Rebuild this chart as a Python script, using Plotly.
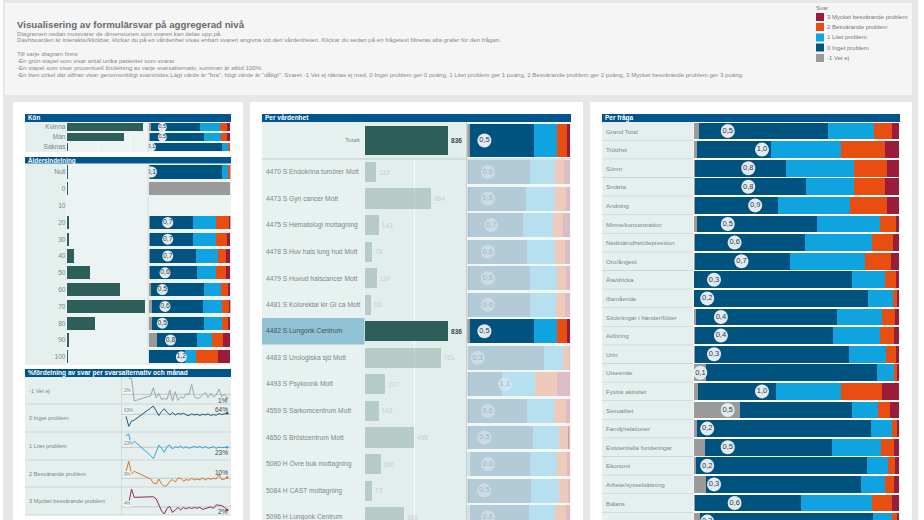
import plotly.graph_objects as go

W, H = 924, 520

answers = ["-1 Vet ej", "0 Inget problem", "1 Litet problem", "2 Besvärande problem", "3 Mycket besvärande problem"]
colors = ["#9a9a9a", "#00527f", "#0fa3e0", "#e84e0f", "#9b1b3a"]
line_colors = ["#a0a5a5", "#1d5a7c", "#2fa6d6", "#d8752e", "#8e2c4e"]

kon = ["Kvinna", "Man", "Saknas"]
kon_n = [478, 357, 3]
kon_stack = [[2.9, 60.4, 23.7, 9, 4], [1, 66.5, 20.8, 8.2, 3.5], [0.4, 90, 7, 2.6, 0]]
kon_index = [0.5, 0.5, 0.1]

alder = ["Null", "0", "10", "20", "30", "40", "50", "60", "70", "80", "90", "100"]
alder_n = [3, 1, None, 9, 12, 31, 99, 224, 330, 120, 7, 2]
alder_stack = [
    [1, 89, 7, 2.5, 0.5], [100, 0, 0, 0, 0], [None] * 5, [2, 52.3, 28.6, 15.9, 1.2],
    [2, 52.3, 27.8, 13.9, 4], [2, 56, 26.5, 9.8, 5.7], [2, 57, 23.7, 11.8, 5.5],
    [2.4, 64.9, 20.8, 9, 2.9], [3.7, 62.4, 23.3, 9, 1.6], [3.7, 63.7, 22, 7.8, 2.8],
    [10.2, 49, 18, 13.9, 9], [0, 44.5, 13.5, 27, 15],
]
alder_index = [0.1, None, None, 0.7, 0.7, 0.7, 0.6, 0.5, 0.6, 0.5, 0.8, 1.2]

enheter = [
    "4470 S Endokrina tumörer Mott", "4473 S Gyn cancer Mott", "4475 S Hematologi mottagning",
    "4478 S Huv hals lung hud Mott", "4479 S Huvud halscancer Mott", "4481 S Kolorektal kir GI ca Mott",
    "4482 S Lungonk Centrum", "4483 S Urologiska sjd Mott", "4493 S Psykoonk Mott",
    "4559 S Sarkomcentrum Mott", "4650 S Bröstcentrum Mott", "5080 H Övre buk mottagning",
    "5084 H CAST mottagning", "5096 H Lungonk Centrum",
]
enhet_n = [119, 664, 143, 78, 120, 68, 836, 761, 207, 142, 498, 160, 73, 393]
enhet_stack = [
    [1, 60, 24.4, 8.8, 5.8], [1, 56, 28, 11, 4], [1, 53, 29, 10, 7], [1, 57, 27, 10, 5],
    [1, 60.5, 26, 8.5, 4], [1, 60, 25, 9, 5], [2.6, 62.3, 22.7, 9.1, 3.3], [0.5, 74.5, 18.5, 6, 0.5],
    [1, 33, 31.5, 22, 12.5], [1, 57, 26, 12, 4], [1, 63, 25, 10, 1], [3, 58, 26, 10, 3],
    [1, 61, 27, 9, 2], [3, 57, 25, 11, 4],
]
enhet_index = [0.6, 0.6, 0.7, 0.6, 0.6, 0.6, 0.5, 0.3, 1.1, 0.6, 0.5, 0.6, 0.5, 0.6]
vald_enhet = "4482 S Lungonk Centrum"
totalt_n = [836]
totalt_stack = [[2.6, 62.3, 22.7, 9.1, 3.3]]
totalt_index = [0.5]

fragor = [
    "Grand Total", "Trötthet", "Sömn", "Smärta", "Andning", "Minne/koncentration", "Nedstämdhet/depression",
    "Oro/ångest", "Äta/dricka", "Illamående", "Stickningar i händer/fötter", "Avföring", "Urin", "Utseende",
    "Fysisk aktivitet", "Sexualitet", "Familj/relationer", "Existentiella funderingar", "Ekonomi",
    "Arbete/sysselsättning", "Balans", "Sammantaget",
]
fraga_stack = [
    [2.6, 62.8, 22.6, 8.8, 3.2], [1.5, 36.3, 33.8, 21.5, 6.9], [0.5, 44.5, 33, 16, 6], [0.8, 53.8, 23.7, 14.8, 6.9],
    [0.5, 40.5, 35, 18, 6], [1.5, 58.4, 31, 7.8, 1.3], [0.8, 53.3, 33, 9.9, 3], [0.5, 46.5, 36.6, 12.4, 4],
    [0.2, 76.7, 16.4, 5, 1.7], [0.2, 84.7, 12, 2.1, 1], [1, 68.8, 22.1, 6, 2.1], [0.7, 67, 23.1, 6.8, 2.4],
    [0.5, 75, 18, 5, 1.5], [6, 83.4, 8.1, 1.6, 0.9], [2.1, 38.2, 31.7, 19.8, 8.2], [22.4, 54.5, 13, 5.7, 4.4],
    [1.6, 84.7, 10.1, 2.6, 1], [5.4, 61.9, 23.9, 6.3, 2.5], [1, 83.4, 10.2, 3.4, 2], [5.9, 75.8, 11.5, 4.4, 2.4],
    [0.5, 51.7, 34.6, 9.8, 3.4], [3.3, 83.9, 9.4, 2.3, 1.1],
]
fraga_index = [0.5, 1.0, 0.8, 0.8, 0.9, 0.5, 0.6, 0.7, 0.3, 0.2, 0.4, 0.4, 0.3, 0.1, 1.0, 0.5, 0.2, 0.5, 0.2, 0.3, 0.6, 0.2]

manader = [-1, 0, 1, 2] + list(range(8, 37))
ar_tick = [9, 27]
ar_text = ["2016", "2017"]
vet_ej = [None, 6.8, 6.8, 0, 1.6, 4.0, 1, 2.3, 0.4, 0.8, 0.5, 3.3, 0, 2.8, 0.2, 1.3, 0.8, 2.3, 1.8, 5, 1.3, 0.8, 1, 1.8, 2.6, 1, 2.3, 1.2, 1.8, 3.6, 1.3, 2, 0.8]
inget = [61, 51.3, 56.3, 57.3, 69, 71, 66.3, 61.7, 65.7, 68.3, 65, 62.3, 64.7, 62.3, 63.7, 63, 64, 62.3, 61.7, 63.3, 62.3, 63, 61.7, 63, 62.3, 63.3, 61.7, 62.7, 62, 63.7, 62.7, 63.3, 64]
litet = [34.7, 36.3, 23.7, 29.3, 14.7, 11.7, 18, 25.3, 22, 18, 23.7, 25.3, 21.3, 23.7, 22.7, 24.3, 22, 23.7, 22, 23.3, 24, 22.7, 24, 22.3, 23.7, 22, 23, 23.7, 22, 23, 22.7, 23, 23]
besvarande = [16, 26, 13.3, 16, 8.3, 4.3, 3.3, 8.3, 3.3, 1, 2, 6, 7.7, 5.3, 9.3, 9, 6, 7.7, 7, 9, 7.3, 8.3, 7.7, 9.3, 7.3, 9, 8, 9, 8.3, 12.7, 7.7, 8.3, 9.7]
mycket = [None, 5.8, 12.8, 8.7, 9.2, 9, 8, 5, 2, 0.5, 3.3, 4.2, 1.3, 2.5, 3.7, 2.5, 3.7, 3, 3.7, 3.2, 3.7, 3.3, 3.8, 2.8, 3.3, 3.7, 4, 3.3, 5, 4.8, 4.7, 3.7, 2.5]
spark_series = [vet_ej, inget, litet, besvarande, mycket]
spark_ref = [2, 63, 23, 9, 4]
spark_ref_text = ["2%", "63%", "23%", "9%", "4%"]
spark_last_text = ["1%", "64%", "23%", "10%", "2%"]

intro = [
    "Diagramen nedan motsvarar de dimensionen som svaren kan delas upp på.",
    "Dashboarden är interaktiv/klickbar, klickar du på en vårdenhet visas enbart svaren angivna vid den vårdenheten. Klickar du sedan på en frågetext filtreras alla grafer för den frågan.",
    "Till varje diagram finns",
    "-En grön stapel som visar antal unika patienter som svarat",
    "-En stapel som visar procentuell fördelning av varje svarsalternativ, summan är alltid 100%.",
    "-En liten cirkel där siffran visar genomsnittligt svarsindex.Lägt värde är \"bra\", högt värde är \"dåligt\". Svaret -1 Vet ej räknas ej med, 0 Inget problem ger 0 poäng, 1 Litet problem ger 1 poäng, 2 Besvärande problem ger 2 poäng, 3 Mycket besvärande problem ger 3 poäng.",
]
intro_y = [33, 40, 54, 60.5, 67.5, 75]

GREEN = "#2d5e5a"
TITLE_BLUE = "#00558c"
CELL = "#e4efee"
CELL2 = "#ebf3f3"
TEXT = "#808687"
FONT = "Liberation Sans"

fig = go.Figure()
shapes = []
notes = []
n_axes = 0


def px_rect(x0, y0, x1, y1, color, line=None):
    shapes.append(dict(type="rect", xref="paper", yref="paper", x0=x0 / W, x1=x1 / W,
                       y0=1 - y1 / H, y1=1 - y0 / H, fillcolor=color, line=dict(width=0), layer="below"))


def note(x, y, text, size=7, color=TEXT, anchor="left", bold=False):
    notes.append(dict(xref="paper", yref="paper", x=x / W, y=1 - y / H, text=f"<b>{text}</b>" if bold else text,
                      showarrow=False, xanchor=anchor, yanchor="middle", borderpad=0,
                      font=dict(size=size, color=color, family=FONT)))


def new_axes(x0, x1, y0, y1, xr, yr, yextra=None, xextra=None):
    global n_axes
    n_axes += 1
    suffix = "" if n_axes == 1 else str(n_axes)
    xax = dict(domain=[x0 / W, x1 / W], range=xr, anchor=f"y{suffix}", showgrid=False, zeroline=False,
               showticklabels=False, ticks="", showline=False)
    yax = dict(domain=[1 - y1 / H, 1 - y0 / H], range=yr, anchor=f"x{suffix}", showgrid=False, zeroline=False,
               showticklabels=False, ticks="", showline=False)
    xax.update(xextra or {})
    yax.update(yextra or {})
    fig.update_layout(**{f"xaxis{suffix}": xax, f"yaxis{suffix}": yax})
    return f"x{suffix}", f"y{suffix}"


def add_count_bars(xa, ya, cats, values, width, opacity=None, labels=None, text_colors=None):
    fig.add_trace(go.Bar(y=cats, x=values, orientation="h", xaxis=xa, yaxis=ya, width=width,
                         marker=dict(color=GREEN, opacity=opacity, line=dict(width=0)),
                         text=labels, textposition="outside" if labels else None, cliponaxis=False,
                         textfont=dict(size=6.5, color=text_colors, family=FONT), showlegend=False))


def add_stack(xa, ya, cats, rows, index, width, size, font_size, faded=None):
    for j, answer in enumerate(answers):
        fig.add_trace(go.Bar(y=cats, x=[r[j] for r in rows], orientation="h", name=answer, xaxis=xa, yaxis=ya,
                             width=width, marker=dict(color=colors[j], line=dict(width=0), opacity=faded),
                             showlegend=False))
    circle_x = [None if v is None else v / 3 * 100 for v in index]
    text = ["" if v is None else f"{v:.1f}".replace(".", ",") for v in index]
    if faded:
        ops = [1 if o == 1 else 0.55 for o in faded]
        tcol = ["#2b3a42" if o == 1 else "rgba(120,140,148,0.55)" for o in faded]
    else:
        ops = 1
        tcol = "#2b3a42"
    fig.add_trace(go.Scatter(x=circle_x, y=cats, mode="markers+text", text=text, textposition="middle center",
                             xaxis=xa, yaxis=ya, marker=dict(size=size, color="#e2ebf1", opacity=ops),
                             textfont=dict(size=font_size, color=tcol, family=FONT), showlegend=False))


# bakgrund
px_rect(3, 0, 918, H, "#e7e7e7")
px_rect(5, 3, 912, 95, "#f5f5f5")
px_rect(13, 102, 243, H, "#ffffff")
px_rect(250, 102, 583, H, "#ffffff")
px_rect(590, 102, 912, H, "#ffffff")

note(15.5, 24, "Visualisering av formulärsvar på aggregerad nivå", size=9.7, color="#666a6b", bold=True)
for y, line in zip(intro_y, intro):
    note(15.5, y, line, size=6.1, color="#858a8b")

note(815, 8, "Svar", size=6, color="#777")
for y, i in zip([17, 27, 37.5, 47.5, 58], [4, 3, 2, 1, 0]):
    px_rect(816, y - 4, 824, y + 4, colors[i])
    note(826, y, answers[i], size=6, color="#777")

# Kön
px_rect(25, 114, 231, 122, TITLE_BLUE)
note(26.5, 118, "Kön", size=6.3, color="white", bold=True)
px_rect(25, 122, 66.5, 152, CELL)
px_rect(66.5, 122, 231, 152, CELL2)
px_rect(147.8, 122, 148.4, 152, "#c8cfd0")
label_y = dict(showticklabels=True, ticklen=0, tickfont=dict(size=6.6, color=TEXT, family=FONT))
xa, ya = new_axes(66.5, 147.5, 122, 152, [0, 503], [2.5, -0.5], yextra=label_y,
                  xextra=dict(showgrid=True, gridcolor="#f7fafa", tickvals=[200, 400]))
add_count_bars(xa, ya, kon, kon_n, 0.8)
xa, ya = new_axes(148.7, 230.3, 122, 152, [0, 100], [2.5, -0.5])
add_stack(xa, ya, kon, kon_stack, kon_index, 0.8, 9, 5.5)

# Åldersindelning
px_rect(25, 157, 231, 163.5, TITLE_BLUE)
note(26.5, 160.3, "Åldersindelning", size=6.3, color="white", bold=True)
px_rect(25, 164, 66.5, 365, CELL)
px_rect(66.5, 164, 231, 365, CELL2)
px_rect(147.8, 164, 148.4, 365, "#c8cfd0")
age_range = [(365 - 172) / 16.8, (164 - 172) / 16.8]
xa, ya = new_axes(66.5, 147.5, 164, 365, [0, 342], age_range, yextra=dict(type="category", **label_y))
add_count_bars(xa, ya, alder, alder_n, 0.78)
xa, ya = new_axes(148.7, 230.3, 164, 365, [0, 100], age_range, yextra=dict(type="category"))
add_stack(xa, ya, alder, alder_stack, alder_index, 0.78, 11, 6.8)

# fördelning per månad
px_rect(25, 369, 231, 377, TITLE_BLUE)
note(26.5, 373, "%fördelning av svar per svarsalternativ och månad", size=6.6, color="white", bold=True)
spark_tops = [377, 404, 432, 460, 487]
spark_bots = [404, 432, 460, 487, 515]
spark_ranges = [[-0.9, 7.2], [45.7, 73], [10.3, 38.3], [0.3, 27.3], [0, 13.8]]
last_shift = [-2, 4, -5, 5, -2]
px_rect(25, 377, 231, 515, CELL)
for i, series in enumerate(spark_series):
    top, bot = spark_tops[i], spark_bots[i]
    px_rect(25, bot - 0.5, 231, bot + 0.5, "#cdd6d6")
    note(28, (top + bot) / 2, answers[i], size=5.7, color=TEXT)
    extra = None
    if i == 4:
        extra = dict(showticklabels=True, tickvals=ar_tick, ticktext=ar_text, ticks="", ticklabelstandoff=2,
                     tickfont=dict(size=6, color="#a8adad", family=FONT))
    xa, ya = new_axes(121, 231, top, bot, [-2.84, 37.4], spark_ranges[i], xextra=extra)
    shapes.append(dict(type="line", xref=f"{xa} domain", yref=ya, x0=0, x1=1, y0=spark_ref[i], y1=spark_ref[i],
                       line=dict(color="#b4bcbc", width=0.7), layer="below"))
    fig.add_trace(go.Scatter(x=manader, y=series, mode="lines", xaxis=xa, yaxis=ya, connectgaps=True,
                             line=dict(color=line_colors[i], width=1), showlegend=False))
    fig.add_trace(go.Scatter(x=manader[-1:], y=series[-1:], mode="markers", xaxis=xa, yaxis=ya,
                             marker=dict(size=2.5, color=line_colors[i]), showlegend=False))
    notes.append(dict(xref=f"{xa} domain", yref=ya, x=0.02, y=spark_ref[i], text=spark_ref_text[i], showarrow=False,
                      xanchor="left", yanchor="bottom", font=dict(size=4.6, color="#777", family=FONT),
                      bgcolor="#f5f9f9", borderpad=0))
    notes.append(dict(xref=f"{xa} domain", yref=ya, x=0.995, y=series[-1], text=spark_last_text[i], showarrow=False,
                      xanchor="right", yanchor="middle", yshift=last_shift[i],
                      font=dict(size=6.5, color="#3c4748", family=FONT)))
px_rect(121, 377, 121.6, 515, "#c8cfd0")

# Per vårdenhet
px_rect(262, 114, 571, 122, TITLE_BLUE)
note(263.5, 118, "Per vårdenhet", size=6.5, color="white", bold=True)
px_rect(262, 122, 364.5, H, "#e7f1f0")
px_rect(364.5, 122, 466, H, "#e2eeec")
px_rect(467, 122, 571, H, "#f1f6f6")
px_rect(466, 122, 467, H, "#c8cfd0")
px_rect(262, 158.5, 571, 159.5, "#c3cbcb")
note(361, 140, "Totalt", size=6.2, color=TEXT, anchor="right")
xa, ya = new_axes(364.5, 466, 124, 157, [0, 1015], [0.5, -0.5])
add_count_bars(xa, ya, ["Totalt"], totalt_n, 0.85, labels=["<b>836</b>"], text_colors=["#3c4748"])
xa, ya = new_axes(467.3, 570, 124, 157, [0, 100], [0.5, -0.5])
add_stack(xa, ya, ["Totalt"], totalt_stack, totalt_index, 1, 14, 7.5)

ENHET_PITCH = 26.55
enhet_range = [(H - 172) / ENHET_PITCH, (160 - 172) / ENHET_PITCH]
enhet_op = [1 if e == vald_enhet else 0.24 for e in enheter]
stack_op = [1 if e == vald_enhet else 0.26 for e in enheter]
bar_labels = [f"<b>{v}</b>" if e == vald_enhet else str(v) for e, v in zip(enheter, enhet_n)]
bar_text_col = ["#3c4748" if e == vald_enhet else "#c3cfce" for e in enheter]
sel = enheter.index(vald_enhet)
px_rect(262, 172 + sel * ENHET_PITCH - 13.3, 364.5, 172 + sel * ENHET_PITCH + 13.3, "#8fc3d5")
for i, e in enumerate(enheter):
    note(265, 172 + i * ENHET_PITCH, e, size=6.7, color="#4a5253" if e == vald_enhet else TEXT)
xa, ya = new_axes(364.5, 466, 160, H, [0, 1015], enhet_range,
                  yextra=dict(type="category"), xextra=dict(showgrid=True, gridcolor="#f4f8f8", tickvals=[500]))
add_count_bars(xa, ya, enheter, enhet_n, 0.76, opacity=enhet_op, labels=bar_labels, text_colors=bar_text_col)
xa, ya = new_axes(467.3, 570, 160, H, [0, 100], enhet_range, yextra=dict(type="category"))
add_stack(xa, ya, enheter, enhet_stack, enhet_index, 0.9, 14, 7.5, faded=stack_op)

# Per fråga
px_rect(602, 114, 900, 122, TITLE_BLUE)
note(603.5, 118, "Per fråga", size=6.5, color="white", bold=True)
px_rect(602, 122, 693.5, H, CELL)
FRAGA_PITCH = 18.6
for i, f in enumerate(fragor):
    yc = 131 + i * FRAGA_PITCH
    note(604.5, yc, f, size=6.2, color=TEXT)
    px_rect(602, yc + FRAGA_PITCH / 2 - 0.4, 693.5, yc + FRAGA_PITCH / 2 + 0.4, "#cdd6d6")
xa, ya = new_axes(693.5, 899, 122, H, [0, 100], [(H - 131) / FRAGA_PITCH, (122 - 131) / FRAGA_PITCH],
                  yextra=dict(type="category"))
add_stack(xa, ya, fragor, fraga_stack, fraga_index, 0.91, 14, 7.5)

# autoexpand av: annoteringar utanför kanten ska inte trycka ihop ytan
fig.update_layout(width=W, height=H, margin=dict(l=0, r=0, t=0, b=0, autoexpand=False), barmode="stack",
                  showlegend=False, paper_bgcolor="white", plot_bgcolor="rgba(0,0,0,0)", shapes=shapes,
                  annotations=notes, font=dict(family=FONT), hovermode="closest")

# sidans egen marginal bort, annars hamnar allt 8 px snett
fig.write_html("out.html", config={"displayModeBar": False},
               post_script="document.body.style.margin='0'")
